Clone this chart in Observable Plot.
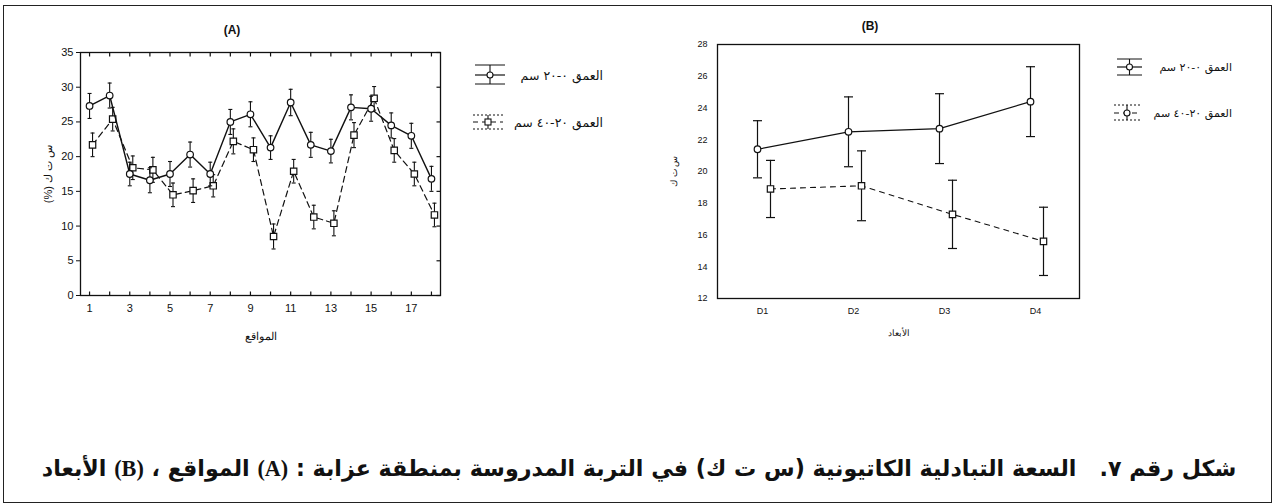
<!DOCTYPE html>
<html>
<head>
<meta charset="utf-8">
<script src="https://cdn.jsdelivr.net/npm/d3@7"></script>
<script src="https://cdn.jsdelivr.net/npm/@observablehq/plot@0.6"></script>
<style>
  body { margin: 0; background: #fff; }
  #page { position: relative; width: 1278px; height: 504px; background: #fff; overflow: hidden; font-family: "Liberation Sans", Arial, sans-serif; }
  .abs { position: absolute; }
</style>
</head>
<body>
<div id="page">
  <div class="abs" style="left:3px;top:5px;width:1269px;height:498px;border:1.6px solid #222;box-sizing:border-box"></div>
  <div id="chartA" class="abs" style="left:0;top:0"></div>
  <div id="chartB" class="abs" style="left:640px;top:0"></div>
  <svg id="overlay" class="abs" width="1278" height="504" style="left:0;top:0;pointer-events:none"></svg>
  <div id="caption" class="abs" dir="rtl" style="left:0;width:1278px;top:455px;text-align:center;font-weight:bold;font-size:22.2px;font-family:'DejaVu Sans','Liberation Sans',sans-serif;color:#111;white-space:nowrap"></div>
</div>
<script>
// ---------- Data ----------
const sitesA = [1,2,3,4,5,6,7,8,9,10,11,12,13,14,15,16,17,18];
const cecA_0_20  = [27.3,28.8,17.5,16.6,17.5,20.3,17.5,25.0,26.1,21.3,27.8,21.7,20.8,27.1,26.9,24.5,23.0,16.8];
const errA_0_20  = [1.8,1.8,1.7,1.8,1.8,1.8,1.7,1.8,1.8,1.7,1.9,1.8,1.7,1.8,1.8,1.8,1.8,1.8];
const cecA_20_40 = [21.7,25.4,18.4,18.1,14.5,15.1,15.8,22.2,21.0,8.5,17.9,11.3,10.4,23.1,28.4,20.9,17.5,11.6];
const errA_20_40 = [1.7,1.7,1.7,1.8,1.7,1.7,1.6,1.8,1.7,1.8,1.7,1.7,1.8,1.8,1.7,1.7,1.7,1.7];
const xTickLabelsA = [1,3,5,7,9,11,13,15,17];
const yTicksA = [0,5,10,15,20,25,30,35];

const depthsB = ["D1","D2","D3","D4"];
const cecB_0_20  = [21.4,22.5,22.7,24.4];
const errB_0_20  = [1.8,2.2,2.2,2.2];
const cecB_20_40 = [18.9,19.1,17.3,15.6];
const errB_20_40 = [1.8,2.2,2.15,2.15];
const yTicksB = [12,14,16,18,20,22,24,26,28];

const legendLabels = ["العمق ٠-٢٠ سم", "العمق ٢٠-٤٠ سم"];
const titleA = "(A)", titleB = "(B)";
const xLabelA = "المواقع", xLabelB = "الأبعاد";
const yLabelA = "(%) س ت ك", yLabelB = "س ت ك";

// ---------- helpers ----------
const ink = "#111";
const capSym = { draw(ctx, size) { const w = Math.sqrt(size / Math.PI); ctx.moveTo(-w, 0); ctx.lineTo(w, 0); } };
const tickUp = { draw(ctx) { ctx.moveTo(0, 0); ctx.lineTo(0, -4); } };
const tickDown = { draw(ctx) { ctx.moveTo(0, 0); ctx.lineTo(0, 4); } };
const tickLeft = { draw(ctx) { ctx.moveTo(0, 0); ctx.lineTo(-4, 0); } };

function seriesMarks(rows, xKey, {dx, dash, symbol, capR, r, barW, lineW}) {
  return [
    Plot.ruleX(rows, {x: xKey, y1: d => d.v - d.e, y2: d => d.v + d.e, stroke: ink, strokeWidth: barW, dx}),
    Plot.dot(rows, {x: xKey, y: d => d.v - d.e, symbol: capSym, r: capR, stroke: ink, strokeWidth: barW, fill: "none", dx}),
    Plot.dot(rows, {x: xKey, y: d => d.v + d.e, symbol: capSym, r: capR, stroke: ink, strokeWidth: barW, fill: "none", dx}),
    Plot.line(rows, {x: xKey, y: "v", stroke: ink, strokeWidth: lineW, strokeDasharray: dash, dx}),
    Plot.dot(rows, {x: xKey, y: "v", symbol, r, fill: "white", stroke: ink, strokeWidth: 1.2, dx})
  ];
}

// ---------- Chart A ----------
const rowsA1 = sitesA.map((s, i) => ({s, v: cecA_0_20[i], e: errA_0_20[i]}));
const rowsA2 = sitesA.map((s, i) => ({s, v: cecA_20_40[i], e: errA_20_40[i]}));

const chartA = Plot.plot({
  width: 470, height: 352,
  marginLeft: 80, marginRight: 30, marginTop: 52, marginBottom: 57,
  x: {domain: [0.55, 18.45]},
  y: {domain: [0, 35]},
  style: {fontFamily: "'Liberation Sans', Arial, sans-serif", fontSize: "11px", color: ink, background: "transparent", overflow: "visible"},
  marks: [
    Plot.frame({stroke: ink, strokeWidth: 1.3}),
    Plot.axisY({ticks: yTicksA, tickSize: 4, tickPadding: 3, label: yLabelA, labelAnchor: "center", labelArrow: "none", labelOffset: 36, fontSize: 11, fill: ink}),
    Plot.axisX({ticks: xTickLabelsA, tickSize: 0, tickPadding: 9, label: xLabelA, labelAnchor: "center", labelArrow: "none", labelOffset: 44, fontSize: 11, fill: ink}),
    Plot.dot(sitesA, {x: d => d, frameAnchor: "bottom", symbol: tickUp, stroke: ink, strokeWidth: 1.2}),
    Plot.dot(sitesA, {x: d => d, frameAnchor: "top", symbol: tickDown, stroke: ink, strokeWidth: 1.2}),
    Plot.dot(yTicksA, {y: d => d, frameAnchor: "right", symbol: tickLeft, stroke: ink, strokeWidth: 1.2}),
    ...seriesMarks(rowsA2, "s", {dx: 3, dash: "6,4", symbol: "square", capR: 2, r: 3.6, barW: 1.1, lineW: 1.2}),
    ...seriesMarks(rowsA1, "s", {dx: 0, dash: null, symbol: "circle", capR: 2, r: 3.3, barW: 1.1, lineW: 1.4})
  ]
});
document.getElementById("chartA").appendChild(chartA);

// ---------- Chart B ----------
const rowsB1 = depthsB.map((d, i) => ({d, v: cecB_0_20[i], e: errB_0_20[i]}));
const rowsB2 = depthsB.map((d, i) => ({d, v: cecB_20_40[i], e: errB_20_40[i]}));

const chartB = Plot.plot({
  width: 460, height: 350,
  marginLeft: 77, marginRight: 21, marginTop: 44, marginBottom: 52,
  x: {type: "point", domain: depthsB, padding: 0.47},
  y: {domain: [12, 28]},
  style: {fontFamily: "'Liberation Sans', Arial, sans-serif", fontSize: "9px", color: ink, background: "transparent", overflow: "visible"},
  marks: [
    Plot.frame({stroke: ink, strokeWidth: 1.3}),
    Plot.axisY({ticks: yTicksB, tickSize: 0, tickPadding: 10, label: yLabelB, labelAnchor: "center", labelArrow: "none", labelOffset: 47, fontSize: 9, fill: ink}),
    Plot.axisX({tickSize: 0, tickPadding: 9, label: xLabelB, labelAnchor: "center", labelArrow: "none", labelOffset: 37, fontSize: 9, fill: ink}),
    ...seriesMarks(rowsB2, "d", {dx: 8, dash: "5,5", symbol: "square", capR: 4.5, r: 3.6, barW: 1.2, lineW: 1.1}),
    ...seriesMarks(rowsB1, "d", {dx: -5, dash: null, symbol: "circle", capR: 4.5, r: 3.3, barW: 1.2, lineW: 1.2})
  ]
});
document.getElementById("chartB").appendChild(chartB);

// ---------- overlay: titles & legends ----------
const ov = d3.select("#overlay");
ov.append("text").attr("x", 232).attr("y", 30).attr("text-anchor", "middle").attr("dominant-baseline", "central")
  .attr("font-family", "'Liberation Sans', Arial").attr("font-weight", "bold").attr("font-size", 12).attr("fill", ink).text(titleA);
ov.append("text").attr("x", 870).attr("y", 26).attr("text-anchor", "middle").attr("dominant-baseline", "central")
  .attr("font-family", "'Liberation Sans', Arial").attr("font-weight", "bold").attr("font-size", 12).attr("fill", ink).text(titleB);

function legendItem(g, x0, x1, yTop, yMid, yBot, dashed, square, textRight, fontSize, label) {
  const cx = (x0 + x1) / 2;
  g.append("line").attr("x1", x0).attr("x2", x1).attr("y1", yTop).attr("y2", yTop).attr("stroke", ink).attr("stroke-width", 1).attr("stroke-dasharray", dashed ? "2,2" : null);
  g.append("line").attr("x1", x0).attr("x2", x1).attr("y1", yBot).attr("y2", yBot).attr("stroke", ink).attr("stroke-width", 1).attr("stroke-dasharray", dashed ? "2,2" : null);
  g.append("line").attr("x1", x0).attr("x2", x1).attr("y1", yMid).attr("y2", yMid).attr("stroke", ink).attr("stroke-width", 1.2).attr("stroke-dasharray", dashed ? "5,4" : null);
  g.append("line").attr("x1", cx).attr("x2", cx).attr("y1", yTop).attr("y2", yBot).attr("stroke", ink).attr("stroke-width", 1.1);
  if (square) g.append("rect").attr("x", cx - 3).attr("y", yMid - 3).attr("width", 6).attr("height", 6).attr("fill", "white").attr("stroke", ink).attr("stroke-width", 1.1);
  else g.append("circle").attr("cx", cx).attr("cy", yMid).attr("r", 3).attr("fill", "white").attr("stroke", ink).attr("stroke-width", 1.1);
  g.append("text").attr("x", textRight).attr("y", yMid).attr("text-anchor", "end").attr("dominant-baseline", "central")
    .attr("font-family", "'DejaVu Sans', sans-serif").attr("font-size", fontSize).attr("fill", ink).text(label);
}
legendItem(ov, 475, 505, 65, 75, 84, false, false, 603, 12.5, legendLabels[0]);
legendItem(ov, 473, 503, 115, 122, 129, true, true, 603, 12.5, legendLabels[1]);
legendItem(ov, 1117, 1142, 59, 67, 75, false, false, 1232, 11, legendLabels[0]);
legendItem(ov, 1114, 1140, 105, 113, 120, true, false, 1232, 11, legendLabels[1]);

// ---------- caption ----------
document.getElementById("caption").innerHTML =
  'شكل رقم ٧.&nbsp;&nbsp; السعة التبادلية الكاتيونية (س ت ك) في التربة المدروسة بمنطقة عزابة : <span style="font-family:\'Liberation Serif\',serif">(A)</span> المواقع ، <span style="font-family:\'Liberation Serif\',serif">(B)</span> الأبعاد';
</script>
</body>
</html>
